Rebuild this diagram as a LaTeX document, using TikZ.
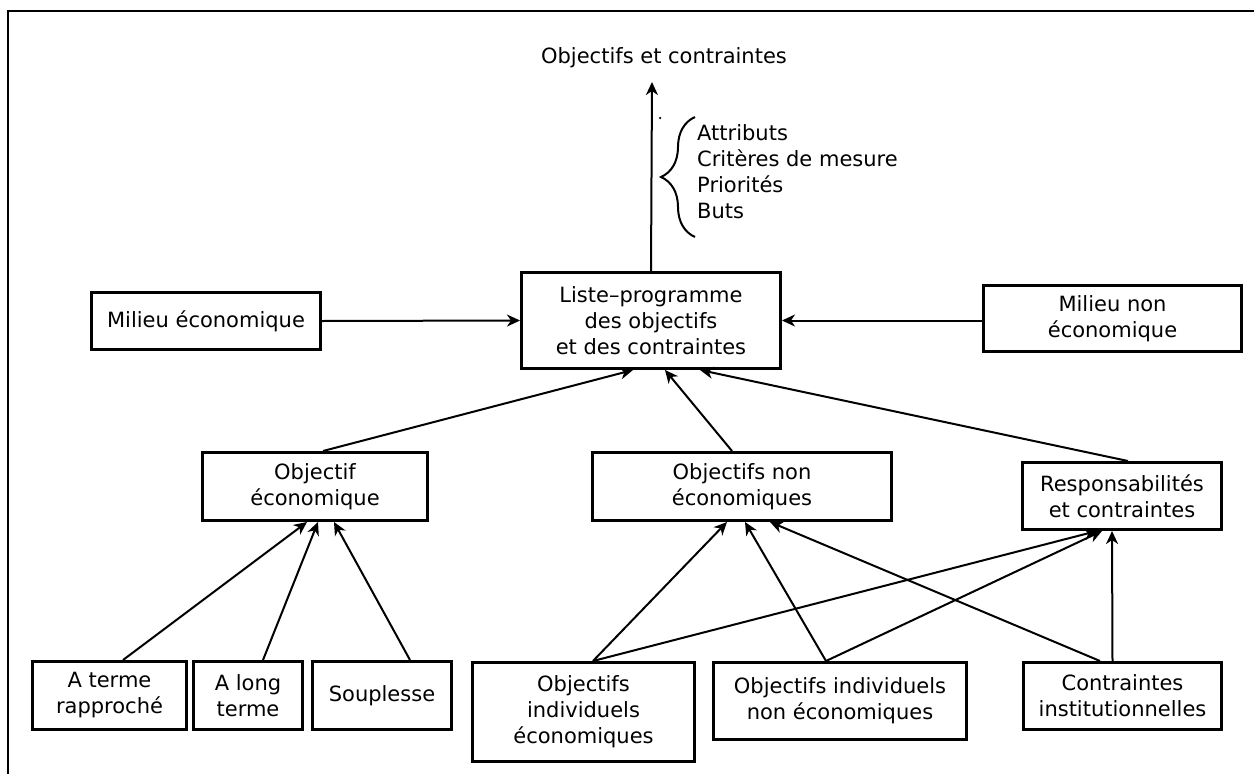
\documentclass[tikz,border=0pt]{standalone}
\usepackage{fontspec}
\setmainfont{DejaVu Sans}
\usetikzlibrary{arrows.meta,decorations.pathreplacing}

\begin{document}
\begin{tikzpicture}[x=1pt,y=-1pt,
  txt/.style={font=\fontsize{21}{26}\selectfont},
  box/.style={txt,draw,line width=3pt,inner sep=0pt,align=center},
  link/.style={line width=2pt,-{Stealth[length=13pt,width=12pt,inset=4pt]}},
  lbl/.style={txt,inner sep=0pt,align=left}]
\useasboundingbox (0,0) rectangle (1254,774);
% outer frame
\draw[line width=2.5pt] (8,800) -- (8,11) -- (1270,11);

% title and attribute list
\node[txt,inner sep=0pt] (goal) at (664,58) {Objectifs et contraintes};
\coordinate (goaltip) at (652,82);
\node[circle,fill,inner sep=0pt,minimum size=2.5pt] (dot) at (660,118) {};
\draw[line width=2pt,decorate,decoration={brace,amplitude=34pt,aspect=0.5}]
  (695,237) -- (695,117) coordinate[pos=0.5] (bracemid);
\node[lbl,anchor=west] (attrs) at (697,172) {Attributs\\Critères de mesure\\Priorités\\Buts};

% central level
\node[box,minimum width=259pt,minimum height=96pt] (liste) at (651,320.5)
  {Liste–programme\\des objectifs\\et des contraintes};
\node[box,minimum width=229pt,minimum height=57pt] (mile) at (206,321) {Milieu économique};
\node[box,minimum width=258pt,minimum height=66pt] (miln) at (1112.5,318.5) {Milieu non\\économique};

% middle level
\node[box,minimum width=225pt,minimum height=68pt] (obje) at (315,486.5) {Objectif\\économique};
\node[box,minimum width=299pt,minimum height=68pt] (objn) at (742,486.5) {Objectifs non\\économiques};
\node[box,minimum width=199pt,minimum height=67pt] (resp) at (1122,496) {Responsabilités\\et contraintes};

% bottom level
\node[box,minimum width=154pt,minimum height=68pt] (aterme) at (109.5,695.5) {A terme\\rapproché};
\node[box,minimum width=109pt,minimum height=68pt] (along) at (248,695.5) {A long\\terme};
\node[box,minimum width=139pt,minimum height=68pt] (soup) at (382,695.5) {Souplesse};
\node[box,minimum width=222pt,minimum height=99pt] (inde) at (583.5,712) {Objectifs\\individuels\\économiques};
\node[box,minimum width=253pt,minimum height=77pt] (indn) at (840,701) {Objectifs individuels\\non économiques};
\node[box,minimum width=198pt,minimum height=67pt] (inst) at (1122.5,696) {Contraintes\\institutionnelles};

% connectors
\draw[link] (liste.north) -- (goaltip);
\draw[link] (mile.east) -- (liste.west);
\draw[link] (miln.west |- liste.east) -- (liste.east);

\draw[link] ([xshift=8pt]obje.north) -- ([xshift=-18pt]liste.south);
\draw[link] ([xshift=-10pt]objn.north) -- ([xshift=14pt]liste.south);
\draw[link] ([xshift=6pt]resp.north) -- ([xshift=49pt]liste.south);

\draw[link] ([xshift=13.5pt]aterme.north) -- ([xshift=-8pt]obje.south);
\draw[link] ([xshift=15pt]along.north) -- ([xshift=3pt]obje.south);
\draw[link] ([xshift=28pt]soup.north) -- ([xshift=19pt]obje.south);

\draw[link] ([xshift=9.5pt]inde.north) -- ([xshift=-15pt]objn.south);
\draw[link] ([xshift=9.5pt]inde.north) -- ([xshift=-25pt]resp.south);
\draw[link] ([xshift=-14pt]indn.north) -- ([xshift=3pt]objn.south);
\draw[link] ([xshift=-14pt]indn.north) -- ([xshift=-20pt]resp.south);
\draw[link] ([xshift=-22.5pt]inst.north) -- ([xshift=28pt]objn.south);
\draw[link] ([xshift=-10pt]inst.north) -- ([xshift=-10pt]resp.south);
\end{tikzpicture}
\end{document}
